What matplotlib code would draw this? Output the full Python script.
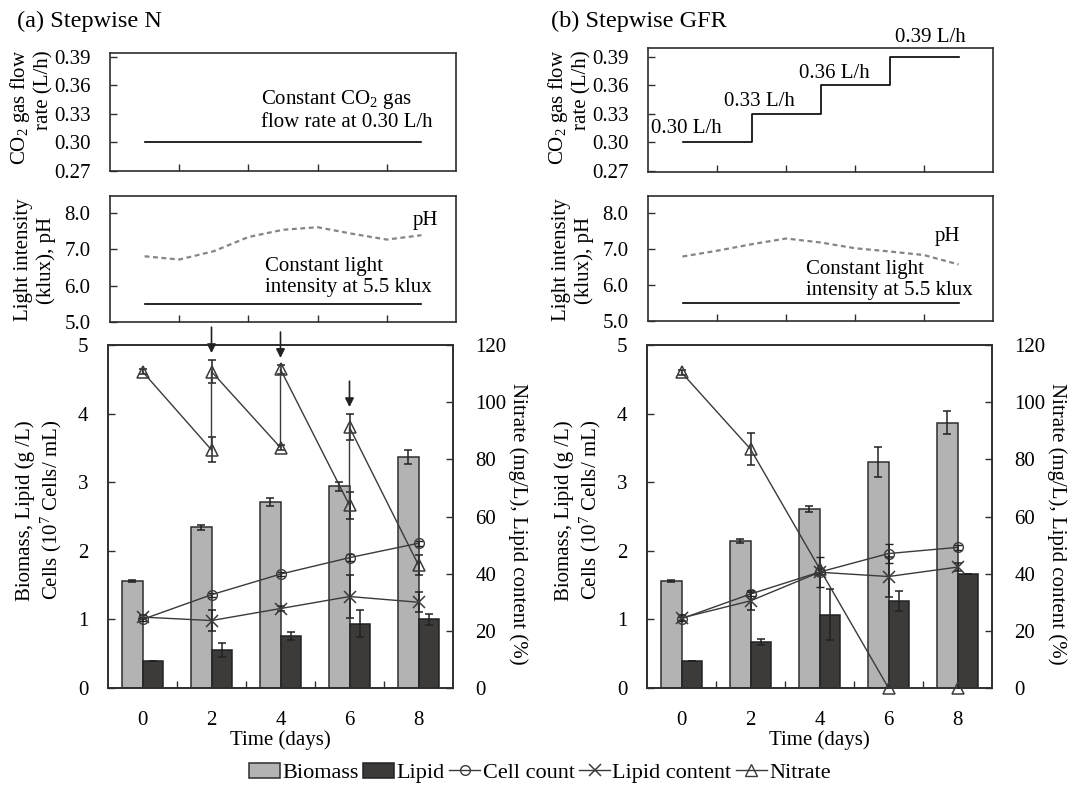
import numpy as np
import matplotlib
matplotlib.use("Agg")
import matplotlib.pyplot as plt
from matplotlib.patches import Patch
from matplotlib.lines import Line2D

plt.rcParams['font.family'] = ['Liberation Serif', 'DejaVu Serif']
plt.rcParams['mathtext.fontset'] = 'custom'
plt.rcParams['mathtext.rm'] = 'Liberation Serif'
plt.rcParams['mathtext.it'] = 'Liberation Serif:italic'

# ---- data ----
days = [0, 2, 4, 6, 8]
pH_days = [0, 1, 2, 3, 4, 5, 6, 7, 8]

co2_N = [0.30, 0.30, 0.30, 0.30, 0.30]
co2_GFR = [0.30, 0.33, 0.36, 0.39, 0.39]
co2_GFR_labels = ['0.30 L/h', '0.33 L/h', '0.36 L/h', '0.39 L/h']

light = [5.5, 5.5, 5.5, 5.5, 5.5]
pH_N = [6.81, 6.72, 6.95, 7.34, 7.54, 7.61, 7.43, 7.27, 7.39]
pH_GFR = [6.79, 6.95, 7.13, 7.29, 7.18, 7.02, 6.93, 6.83, 6.57]

biomass_N = [1.56, 2.34, 2.71, 2.94, 3.37]
biomass_N_err = [0.02, 0.04, 0.06, 0.07, 0.10]
lipid_N = [0.40, 0.55, 0.76, 0.94, 1.00]
lipid_N_err = [0.0, 0.10, 0.06, 0.19, 0.08]
cells_N = [1.00, 1.36, 1.66, 1.90, 2.11]
cells_N_err = [0.03, 0.03, 0.03, 0.05, 0.04]
lipc_N = [24.8, 23.6, 27.8, 32.0, 30.0]
lipc_N_err = [0.8, 3.6, 1.0, 7.5, 3.5]
# nitrate before / after each feeding (day 2, 4, 6 appear twice)
nitrate_N_days = [0, 2, 2, 4, 4, 6, 6, 8]
nitrate_N = [110.7, 83.3, 110.7, 84.1, 111.5, 63.9, 91.2, 43.0]
nitrate_N_err = [1.0, 4.4, 4.0, 1.0, 1.5, 4.6, 4.6, 3.5]
feed_days = [2, 4, 6]
feed_top = [110.7, 111.5, 91.2]
feed_err = [4.0, 1.5, 4.6]

biomass_G = [1.56, 2.14, 2.61, 3.29, 3.87]
biomass_G_err = [0.02, 0.03, 0.04, 0.22, 0.17]
lipid_G = [0.40, 0.67, 1.07, 1.27, 1.66]
lipid_G_err = [0.0, 0.05, 0.37, 0.15, 0.0]
cells_G = [1.01, 1.37, 1.69, 1.96, 2.05]
cells_G_err = [0.03, 0.03, 0.22, 0.14, 0.04]
lipc_G = [24.5, 30.5, 40.5, 39.0, 42.3]
lipc_G_err = [1.0, 3.3, 1.0, 7.0, 1.5]
nitrate_G = [110.4, 83.6, 41.8, 0.0, 0.0]
nitrate_G_err = [1.0, 5.6, 0.0, 0.0, 0.0]

# ---- style ----
W, H = 1069, 796
FS = 15
INK = '#2e2e2e'
LINE = '#3a3a3a'
BIO_C = '#b3b3b3'
LIP_C = '#3d3a3a'
BW = 0.58


def box(l, t, r, b):
    return [l / W, 1 - b / H, (r - l) / W, (b - t) / H]


def frame(ax):
    for s in ax.spines.values():
        s.set_linewidth(1.2)
        s.set_color(INK)
    ax.set_xlim(-1, 9)
    ax.tick_params(direction='in', length=5, width=1, colors=INK,
                   labelcolor='black', labelsize=FS, pad=14)


def top_panel(ax, values, ylim):
    frame(ax)
    ax.plot(days, values, color='black', lw=1.2, drawstyle='steps-post')
    ax.set_ylim(*ylim)
    ax.set_yticks([0.27, 0.30, 0.33, 0.36, 0.39])
    ax.set_yticklabels(['%.2f' % v for v in [0.27, 0.30, 0.33, 0.36, 0.39]])
    ax.set_xticks([1, 3, 5, 7])
    ax.set_xticklabels([])


def mid_panel(ax, ph):
    frame(ax)
    ax.plot(days, light, color='black', lw=1.2)
    ax.plot(pH_days, ph, color='#858585', lw=1.6, ls=(0, (2.2, 1.6)))
    ax.set_ylim(5.0, 8.47)
    ax.set_yticks([5, 6, 7, 8])
    ax.set_yticklabels(['5.0', '6.0', '7.0', '8.0'])
    ax.set_xticks([1, 3, 5, 7])
    ax.set_xticklabels([])


def bottom_panel(ax, bio, bio_e, lip, lip_e, cells, cells_e):
    frame(ax)
    x = np.array(days)
    ax.bar(x - BW / 2, bio, BW, color=BIO_C, edgecolor=INK, lw=1.1, zorder=1)
    ax.bar(x + BW / 2, lip, BW, color=LIP_C, edgecolor='#222222', lw=1.1, zorder=1)
    ax.errorbar(x - BW / 2, bio, yerr=bio_e, fmt='none', ecolor='#222222',
                elinewidth=1.1, capsize=3, capthick=1.1, zorder=2)
    ax.errorbar(x + BW / 2, lip, yerr=lip_e, fmt='none', ecolor='#222222',
                elinewidth=1.1, capsize=3, capthick=1.1, zorder=2)
    ax.errorbar(x, cells, yerr=cells_e, color=LINE, lw=1.0, marker='o', ms=7,
                mfc='none', mec=LINE, mew=1.0, ecolor='#222222', elinewidth=1.1,
                capsize=3, capthick=1.1, zorder=3)
    ax.set_ylim(0, 5)
    ax.set_yticks([0, 1, 2, 3, 4, 5])
    ax.set_xticks(days)
    ax.set_xticks([1, 3, 5, 7], minor=True)
    ax.tick_params(axis='x', which='major', length=0, pad=16.5)
    ax.tick_params(axis='x', which='minor', direction='in', length=5,
                   width=1, colors=INK)
    ax.set_xlabel('Time (days)', fontsize=FS, labelpad=0)
    ax2 = ax.twinx()
    ax2.set_ylim(0, 120)
    ax2.set_yticks([0, 20, 40, 60, 80, 100, 120])
    ax2.tick_params(direction='in', length=5, width=1, colors=INK,
                    labelcolor='black', labelsize=FS, pad=16)
    for s in ax2.spines.values():
        s.set_linewidth(1.2)
        s.set_color(INK)
    return ax2


def series(ax2, xs, ys, errs, marker, ms):
    ax2.errorbar(xs, ys, yerr=errs, color=LINE, lw=1.0, marker=marker, ms=ms,
                 mfc='none', mec=LINE, mew=1.1, ecolor='#222222', elinewidth=1.1,
                 capsize=3, capthick=1.1, clip_on=False, zorder=3)


fig = plt.figure(figsize=(W / 100, H / 100), dpi=100)

# ---- (a) Stepwise N ----
axA1 = fig.add_axes(box(110, 53, 456, 171))
top_panel(axA1, co2_N, (0.27, 0.394))
axA1.text(3.35, 0.334, 'Constant CO$_2$ gas\nflow rate at 0.30 L/h',
          fontsize=FS, va='center', ha='left', linespacing=1.15)

axA2 = fig.add_axes(box(110, 196, 456, 322))
mid_panel(axA2, pH_N)
axA2.text(3.47, 6.24, 'Constant light\nintensity at 5.5 klux',
          fontsize=FS, va='center', ha='left', linespacing=1.15)
axA2.text(7.75, 7.8, 'pH', fontsize=FS, va='center', ha='left')

axA3 = fig.add_axes(box(108, 345, 453, 688))
axA3r = bottom_panel(axA3, biomass_N, biomass_N_err, lipid_N, lipid_N_err,
                     cells_N, cells_N_err)
series(axA3r, days, lipc_N, lipc_N_err, 'x', 8)
series(axA3r, nitrate_N_days, nitrate_N, nitrate_N_err, '^', 8)
for d, top, e in zip(feed_days, feed_top, feed_err):
    tip = top + e + 1.5
    axA3r.annotate('', xy=(d, tip), xytext=(d, tip + 11),
                   arrowprops=dict(arrowstyle='-|>', color='#222222', lw=1.2,
                                   mutation_scale=13),
                   annotation_clip=False)

# ---- (b) Stepwise GFR ----
axB1 = fig.add_axes(box(648, 48, 993, 172))
top_panel(axB1, co2_GFR, (0.2688, 0.3995))
label_pos = [(-0.92, 0.315), (1.2, 0.3426), (3.38, 0.3723), (6.16, 0.4106)]
for lab, (lx, ly) in zip(co2_GFR_labels, label_pos):
    axB1.text(lx, ly, lab, fontsize=FS, va='center', ha='left', clip_on=False)

axB2 = fig.add_axes(box(648, 196, 993, 321))
mid_panel(axB2, pH_GFR)
axB2.text(3.58, 6.14, 'Constant light\nintensity at 5.5 klux',
          fontsize=FS, va='center', ha='left', linespacing=1.15)
axB2.text(7.32, 7.34, 'pH', fontsize=FS, va='center', ha='left')

axB3 = fig.add_axes(box(647, 345, 992, 688))
axB3r = bottom_panel(axB3, biomass_G, biomass_G_err, lipid_G, lipid_G_err,
                     cells_G, cells_G_err)
series(axB3r, days, lipc_G, lipc_G_err, 'x', 8)
series(axB3r, days, nitrate_G, nitrate_G_err, '^', 8)

# ---- titles and axis labels ----
def fx(px):
    return px / W


def fy(py):
    return 1 - py / H


fig.text(fx(17), fy(21), '(a) Stepwise N', fontsize=17.5, va='center', ha='left')
fig.text(fx(551), fy(21), '(b) Stepwise GFR', fontsize=17.5, va='center', ha='left')

for spine_x in (110, 648):
    off = spine_x - 110
    fig.text(fx(31 + off), fy(50), 'CO$_2$ gas flow\nrate (L/h)', fontsize=FS,
             rotation=90, ha='center', va='top', multialignment='right',
             linespacing=1.15)
    fig.text(fx(35 + off), fy(260), 'Light intensity\n(klux), pH', fontsize=FS,
             rotation=90, ha='center', va='center', multialignment='center',
             linespacing=1.2)

for spine_l, spine_r in ((108, 453), (647, 992)):
    fig.text(fx(spine_l - 68), fy(420), 'Biomass, Lipid (g /L)\nCells (10$^7$ Cells/ mL)',
             fontsize=FS, rotation=90, ha='center', va='top',
             multialignment='right', linespacing=1.2)
    fig.text(fx(spine_r + 65), fy(524), 'Nitrate (mg/L), Lipid content (%)',
             fontsize=FS, rotation=270, ha='center', va='center')

# ---- legend ----
handles = [
    Patch(facecolor=BIO_C, edgecolor=INK, lw=1.1),
    Patch(facecolor=LIP_C, edgecolor='#222222', lw=1.1),
    Line2D([], [], color=LINE, lw=1.0, marker='o', ms=7, mfc='none', mec=LINE),
    Line2D([], [], color=LINE, lw=1.0, marker='x', ms=8, mec=LINE, mew=1.1),
    Line2D([], [], color=LINE, lw=1.0, marker='^', ms=8, mfc='none', mec=LINE),
]
labels = ['Biomass', 'Lipid', 'Cell count', 'Lipid content', 'Nitrate']
fig.legend(handles, labels, loc='center', bbox_to_anchor=(fx(540), fy(773)),
           ncol=5, frameon=False, fontsize=16, handlelength=1.4,
           handleheight=0.7, handletextpad=0.1, columnspacing=0.2)

fig.savefig('out.png', dpi=100)
